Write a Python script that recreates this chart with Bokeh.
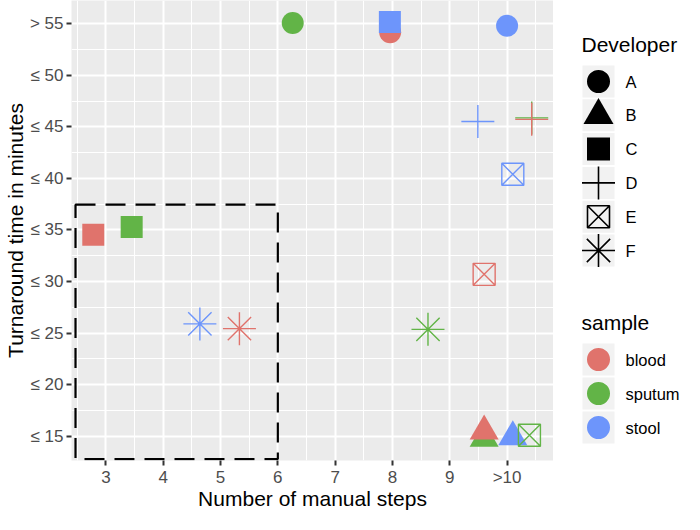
import pandas as pd
from bokeh.plotting import figure
from bokeh.models import Range1d, FixedTicker, ColumnDataSource
from bokeh.layouts import row
from bokeh.core.properties import value
from bokeh.embed import file_html
from bokeh.resources import INLINE

# ---------------- data ----------------
developer = ["A", "A", "A", "B", "B", "B", "C", "C", "C",
             "D", "D", "D", "E", "E", "E", "F", "F", "F"]
sample = ["blood", "sputum", "stool", "sputum", "blood", "stool",
          "blood", "sputum", "stool", "sputum", "blood", "stool",
          "blood", "sputum", "stool", "blood", "sputum", "stool"]
manual_steps = [7.96, 6.26, 10.0, 9.6, 9.6, 10.1,
                2.78, 3.45, 7.955, 10.43, 10.43, 9.49,
                9.6, 10.39, 10.1, 5.33, 8.62, 4.64]
turnaround = [54.16, 55.06, 54.8, 14.8, 15.5, 14.94,
              34.53, 35.28, 55.16, 45.86, 45.72, 45.52,
              30.7, 15.1, 40.4, 25.44, 25.37, 25.9]

developer_levels = ["A", "B", "C", "D", "E", "F"]
sample_levels = ["blood", "sputum", "stool"]

x_ticks = [3, 4, 5, 6, 7, 8, 9, 10]
x_tick_labels = ["3", "4", "5", "6", "7", "8", "9", ">10"]
y_ticks = [15, 20, 25, 30, 35, 40, 45, 50, 55]
y_tick_labels = ["≤ 15", "≤ 20", "≤ 25", "≤ 30", "≤ 35", "≤ 40", "≤ 45", "≤ 50", "> 55"]

# highlighted region (left, right, bottom, top)
highlight_box = [2.47, 6.0, 12.8, 37.45]

# ---------------- style ----------------
FONT = "Liberation Sans"
FRAME_H = 460
sample_colors = {"blood": "#E0736C", "sputum": "#62B447", "stool": "#6D95FB"}
marker_style = {
    "A": ("circle", 22, True),
    "B": ("triangle", 29, True),
    "C": ("square", 22, True),
    "D": ("cross", 33, False),
    "E": ("square_x", 22, False),
    "F": ("asterisk", 33, False),
}

df = pd.DataFrame({"developer": developer, "sample": sample,
                   "steps": manual_steps, "minutes": turnaround})
df["color"] = df["sample"].map(sample_colors)

p = figure(frame_width=482, frame_height=FRAME_H,
           x_range=Range1d(2.40, 10.81), y_range=Range1d(12.66, 57.24),
           output_backend="svg", toolbar_location=None,
           x_axis_label="Number of manual steps",
           y_axis_label="Turnaround time in minutes")
p.min_border = 0
p.background_fill_color = "#EBEBEB"
p.border_fill_color = "white"
p.outline_line_color = None

x_minor = [x_ticks[0] - 0.5] + [t + 0.5 for t in x_ticks]
y_minor = [y_ticks[0] - 2.5] + [t + 2.5 for t in y_ticks]
p.xaxis.ticker = FixedTicker(ticks=x_ticks, minor_ticks=x_minor)
p.yaxis.ticker = FixedTicker(ticks=y_ticks, minor_ticks=y_minor)
p.xaxis.major_label_overrides = {t: l for t, l in zip(x_ticks, x_tick_labels)}
p.yaxis.major_label_overrides = {t: l for t, l in zip(y_ticks, y_tick_labels)}

for g in (p.xgrid, p.ygrid):
    g.grid_line_color = "white"
    g.grid_line_width = 2
    g.minor_grid_line_color = "white"
    g.minor_grid_line_width = 1

for ax in (p.xaxis, p.yaxis):
    ax.axis_line_color = None
    ax.major_tick_line_color = "#333333"
    ax.major_tick_line_width = 2
    ax.major_tick_out = 5
    ax.major_tick_in = 0
    ax.minor_tick_line_color = None
    ax.major_label_text_font = FONT
    ax.major_label_text_font_size = "17px"
    ax.major_label_text_color = "#4D4D4D"
    ax.axis_label_text_font = FONT
    ax.axis_label_text_font_size = "21px"
    ax.axis_label_text_font_style = "normal"
    ax.axis_label_text_color = "black"
p.xaxis.major_label_standoff = 2
p.yaxis.major_label_standoff = 3
p.xaxis.axis_label_standoff = -3
p.yaxis.axis_label_standoff = 0

for dev in developer_levels:
    sub = df[df["developer"] == dev]
    src = ColumnDataSource(sub)
    mk, sz, filled = marker_style[dev]
    if filled:
        p.scatter("steps", "minutes", source=src, marker=mk, size=sz,
                  fill_color="color", line_color=None)
    else:
        p.scatter("steps", "minutes", source=src, marker=mk, size=sz,
                  fill_color=None, line_color="color", line_width=1.4)

bl, br, bb, bt = highlight_box
p.quad(left=[bl], right=[br], bottom=[bb], top=[bt], fill_color=None,
       line_color="black", line_width=2.2, line_dash="20 10")

# ---------------- legends (separate panel, pixel coordinates) ----------------
lg = figure(frame_width=130, frame_height=FRAME_H,
            x_range=Range1d(0, 130), y_range=Range1d(FRAME_H, 0),
            output_backend="svg", toolbar_location=None)
lg.min_border = 0
lg.axis.visible = False
lg.grid.visible = False
lg.outline_line_color = None
lg.background_fill_color = "white"
lg.border_fill_color = "white"

KEY_X = 45
TITLE_X = 28
LABEL_X = 72
dev_y = [81 + i * 33.8 for i in range(len(developer_levels))]
samp_y = [359 + i * 34 for i in range(len(sample_levels))]

lg.rect(x=[KEY_X] * len(dev_y), y=dev_y, width=32, height=32,
        fill_color="#F2F2F2", line_color=None)
lg.rect(x=[KEY_X] * len(samp_y), y=samp_y, width=32, height=32,
        fill_color="#F2F2F2", line_color=None)

for dev, yy in zip(developer_levels, dev_y):
    mk, sz, filled = marker_style[dev]
    if filled:
        lg.scatter([KEY_X], [yy], marker=mk, size=sz + 1, fill_color="black", line_color=None)
    else:
        lg.scatter([KEY_X], [yy], marker=mk, size=sz, fill_color=None,
                   line_color="black", line_width=1.6)

lg.scatter([KEY_X] * len(samp_y), samp_y, marker="circle", size=23,
           fill_color=[sample_colors[s] for s in sample_levels], line_color=None)

lg.text(x=[TITLE_X], y=[44], text=["Developer"], text_font=value(FONT),
        text_font_size="21px", text_baseline="middle", text_align="left", text_color="black")
lg.text(x=[TITLE_X], y=[322], text=["sample"], text_font=value(FONT),
        text_font_size="21px", text_baseline="middle", text_align="left", text_color="black")
lg.text(x=[LABEL_X] * len(dev_y), y=dev_y, text=developer_levels, text_font=value(FONT),
        text_font_size="16.5px", text_baseline="middle", text_align="left", text_color="black")
lg.text(x=[LABEL_X] * len(samp_y), y=samp_y, text=sample_levels, text_font=value(FONT),
        text_font_size="16.5px", text_baseline="middle", text_align="left", text_color="black")

layout = row(p, lg)
open("out.html", "w").write(file_html(layout, INLINE))
